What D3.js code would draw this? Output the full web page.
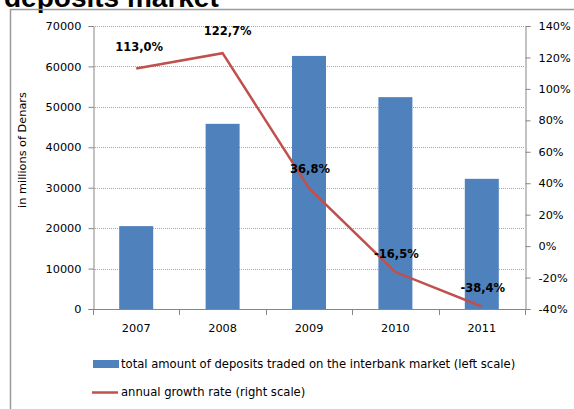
<!DOCTYPE html>
<html><head><meta charset="utf-8">
<script src="https://cdn.jsdelivr.net/npm/d3@7"></script>
<style>body{margin:0;background:#fff}svg{display:block}</style>
</head><body>
<script>
const years = ["2007","2008","2009","2010","2011"];
const deposits = [20500, 45800, 62600, 52400, 32200];
const growth = [113.0, 122.7, 36.8, -16.5, -38.4];
const growthLabels = ["113,0%","122,7%","36,8%","-16,5%","-38,4%"];
const leftTicks = [0,10000,20000,30000,40000,50000,60000,70000];
const rightTicks = [-40,-20,0,20,40,60,80,100,120,140];

const W=574,H=409;
const svg=d3.select("body").append("svg").attr("width",W).attr("height",H);
const font="DejaVu Sans";
// title (cut at top, as in the reference)
svg.append("text").attr("x",4).attr("y",7).attr("font-family","Liberation Sans").attr("font-weight","bold")
  .attr("font-size",28).text("deposits market");
// border
svg.append("path").attr("d","M10.5,"+H+"V9.5H"+W).attr("fill","none").attr("stroke","#9a9a9a").attr("stroke-width",1.5);

const L=93,R=525,T=26,B=309;
const x=d3.scaleBand().domain(years).range([L,R]).paddingInner(0).paddingOuter(0);
const yL=d3.scaleLinear().domain([0,70000]).range([B,T]);
const yR=d3.scaleLinear().domain([-40,140]).range([B,T]);

// gridlines
svg.append("g").selectAll("line").data(leftTicks.filter(d=>d>0)).join("line")
  .attr("x1",L).attr("x2",R).attr("y1",d=>Math.round(yL(d))+0.5).attr("y2",d=>Math.round(yL(d))+0.5)
  .attr("stroke","#a6a6a6").attr("stroke-dasharray","1,1");

// bars
const bw=34;
svg.append("g").selectAll("rect").data(deposits).join("rect")
  .attr("x",(d,i)=>x(years[i])+x.bandwidth()/2-bw/2).attr("width",bw)
  .attr("y",d=>yL(d)).attr("height",d=>B-yL(d)).attr("fill","#4f81bd");

// axes
const axL=svg.append("g").attr("transform",`translate(${L+0.5},0)`)
  .call(d3.axisLeft(yL).tickValues(leftTicks).tickSize(5).tickPadding(7).tickFormat(d=>d));
const axR=svg.append("g").attr("transform",`translate(${R+0.5},0)`)
  .call(d3.axisRight(yR).tickValues(rightTicks).tickSize(5).tickPadding(8).tickFormat(d=>d+"%"));
const axB=svg.append("g").attr("transform",`translate(0,${B+0.5})`)
  .call(d3.axisBottom(x).tickSize(0).tickPadding(14));
// boundary ticks on x axis
const bounds=years.map(y=>x(y)).concat([R]);
svg.append("g").selectAll("line").data(bounds).join("line")
  .attr("x1",d=>Math.round(d)+0.5).attr("x2",d=>Math.round(d)+0.5).attr("y1",B).attr("y2",B+6)
  .attr("stroke","#868686");
[axL,axR,axB].forEach(a=>{
  a.select(".domain").attr("stroke","#868686");
  a.selectAll(".tick line").attr("stroke","#868686");
  a.selectAll("text").attr("font-family",font).attr("font-size",11.3).attr("fill","#000");
});
axB.select(".domain").attr("d",`M${L},0H${R}`);

// line
const line=d3.line().x((d,i)=>x(years[i])+x.bandwidth()/2).y(d=>yR(d));
svg.append("path").datum(growth).attr("d",line).attr("fill","none").attr("stroke","#c0504d").attr("stroke-width",2.5);

// labels
const lblDx=[3,5,1,1,1], lblDy=[-17,-18,-15,-14,-14];
svg.append("g").selectAll("text").data(growth).join("text")
  .attr("x",(d,i)=>x(years[i])+x.bandwidth()/2+lblDx[i]).attr("y",(d,i)=>yR(d)+lblDy[i])
  .attr("text-anchor","middle").attr("font-family",font).attr("font-weight","bold").attr("font-size",11.5)
  .text((d,i)=>growthLabels[i]);

// y title
svg.append("text").attr("transform","translate(26,150) rotate(-90)").attr("text-anchor","middle")
  .attr("font-family",font).attr("font-size",11.3).text("in millions of Denars");

// legend
svg.append("rect").attr("x",93).attr("y",360).attr("width",26).attr("height",8).attr("fill","#4f81bd");
svg.append("text").attr("x",121).attr("y",368).attr("font-family",font).attr("font-size",11.6)
  .text("total amount of deposits traded on the interbank market (left scale)");
svg.append("line").attr("x1",92).attr("x2",118).attr("y1",392.5).attr("y2",392.5).attr("stroke","#c0504d").attr("stroke-width",2.5);
svg.append("text").attr("x",121).attr("y",396).attr("font-family",font).attr("font-size",11.6)
  .text("annual growth rate (right scale)");
</script>
</body></html>
